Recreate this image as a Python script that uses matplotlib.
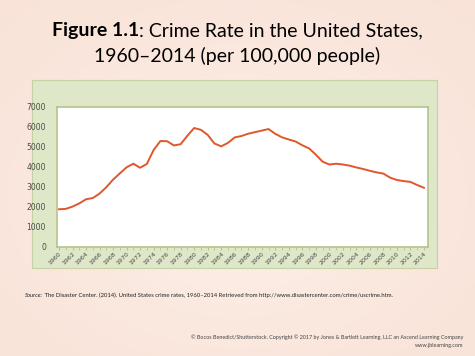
import numpy as np
import matplotlib.pyplot as plt
from matplotlib.patches import Rectangle

# crime rate per 100,000 people, US, 1960-2014
years = list(range(1960, 2015))
rate = [1887, 1906, 2020, 2180, 2388, 2449, 2671, 2990, 3370, 3680,
        3985, 4165, 3961, 4154, 4850, 5299, 5287, 5078, 5140, 5566,
        5950, 5858, 5604, 5175, 5031, 5207, 5480, 5550, 5664, 5741,
        5820, 5898, 5660, 5484, 5374, 5276, 5087, 4930, 4619, 4267,
        4125, 4163, 4125, 4067, 3977, 3901, 3808, 3730, 3669, 3467,
        3350, 3295, 3255, 3099, 2961]
tick_years = list(range(1960, 2015, 2))
y_ticks = [0, 1000, 2000, 3000, 4000, 5000, 6000, 7000]

fig = plt.figure(figsize=(4.75, 3.56), dpi=100)

# peach background with soft gradient
bg = fig.add_axes([0, 0, 1, 1], zorder=-10)
gx, gy = np.meshgrid(np.linspace(0, 1, 200), np.linspace(0, 1, 150))
shade = 0.4 + 0.6 * np.exp(-((gx - 0.5) ** 2 + (gy - 0.55) ** 2) / 0.15)
c_dark = np.array([0.97, 0.86, 0.81])
c_light = np.array([0.99, 0.94, 0.91])
img = c_dark[None, None, :] * (1 - shade[..., None]) + c_light[None, None, :] * shade[..., None]
bg.imshow(img, extent=[0, 1, 0, 1], aspect='auto')
bg.set_axis_off()

# green panel
fig.patches.append(Rectangle((32 / 475, 88 / 356), 405 / 475, 188 / 356,
                             transform=fig.transFigure, facecolor='#dfe7c9',
                             edgecolor='#c5d2a5', lw=0.8, zorder=-5))

ax = fig.add_axes([57 / 475, 109 / 356, 371 / 475, 140 / 356])
ax.set_facecolor('white')
ax.plot(years, rate, color='#e0572b', lw=1.4)
ax.set_xlim(1959.7, 2014.6)
ax.set_ylim(0, 7000)
ax.set_yticks(y_ticks)
ax.set_xticks(tick_years)
ax.set_xticks(years, minor=True)
ax.set_xticklabels([str(y) for y in tick_years], rotation=45, ha='right',
                   rotation_mode='anchor', fontsize=4.5, color='#4a4a4a')
ax.set_yticklabels([str(v) for v in y_ticks], fontsize=5.5, color='#4a4a4a')
for s in ax.spines.values():
    s.set_color('#b3c48c')
    s.set_linewidth(1.2)
ax.tick_params(axis='y', length=0, pad=8)
ax.tick_params(axis='x', which='both', length=2, color='#b3c48c', pad=1)

# title, bold part + regular part on line 1
fig.canvas.draw()
r = fig.canvas.get_renderer()
font = 'Lato'
t1 = fig.text(0, 0, 'Figure 1.1', fontsize=14, fontweight='bold', family=font)
t2 = fig.text(0, 0, ': Crime Rate in the United States,', fontsize=14, family=font)
w1 = t1.get_window_extent(r).width
w2 = t2.get_window_extent(r).width
x0 = (475 - (w1 + w2)) / 2
ybase = 1 - 36 / 356
t1.set_position((x0 / 475, ybase))
t2.set_position(((x0 + w1) / 475, ybase))
fig.text(0.5, 1 - 62 / 356, '1960\u20132014 (per 100,000 people)', fontsize=14,
         family=font, ha='center')

# source line
s1 = fig.text(25 / 475, 1 - 297 / 356, 'Source:', fontsize=4.2, style='italic',
              family=font, color='#222222')
sw = s1.get_window_extent(r).width
fig.text((25 + sw) / 475, 1 - 297 / 356,
         ' The Disaster Center. (2014). United States crime rates, 1960\u20132014 '
         'Retrieved from http://www.disastercenter.com/crime/uscrime.htm.',
         fontsize=4.2, family=font, color='#222222')

fig.text(463 / 475, 1 - 339 / 356,
         '\u00a9 Bocos Benedict/Shutterstock. Copyright \u00a9 2017 by Jones & Bartlett '
         'Learning, LLC an Ascend Learning Company', fontsize=3.9, family=font,
         color='#444444', ha='right')
fig.text(463 / 475, 1 - 347 / 356, 'www.jblearning.com', fontsize=3.9,
         family=font, color='#444444', ha='right')

fig.savefig('out.png', dpi=100)
